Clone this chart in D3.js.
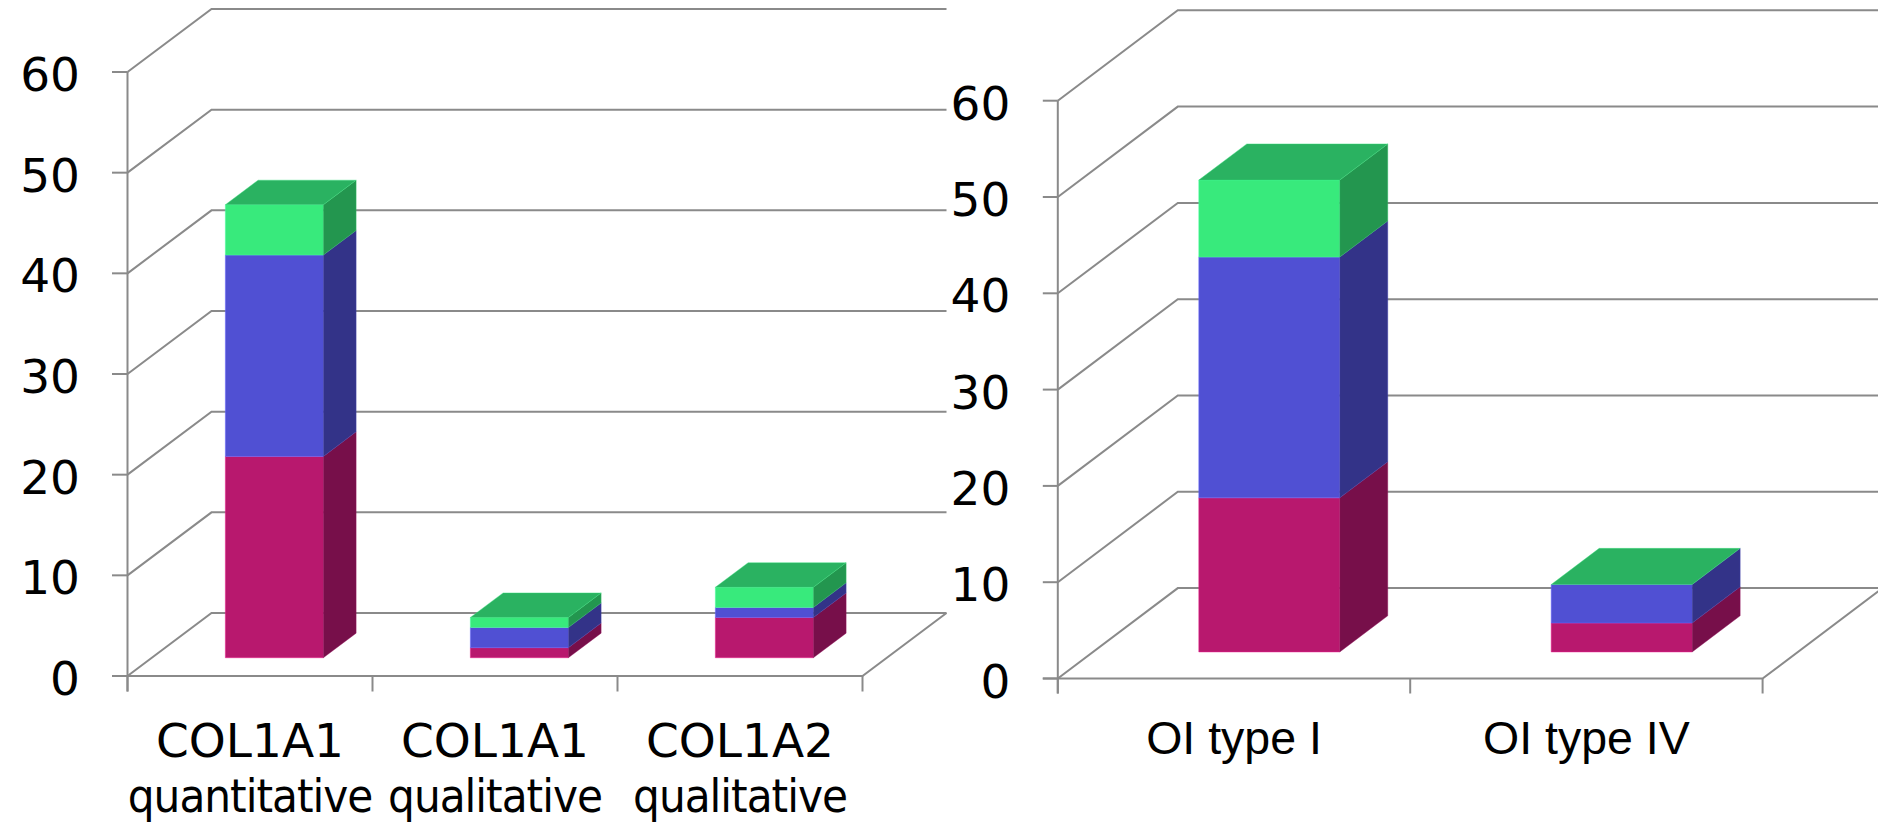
<!DOCTYPE html>
<html>
<head>
<meta charset="utf-8">
<script src="https://cdn.jsdelivr.net/npm/d3@7"></script>
<style>
  html, body { margin: 0; padding: 0; background: #ffffff; }
  svg { display: block; }
  .tick-label { font-family: "DejaVu Sans", Verdana, sans-serif; font-size: 47px; fill: #000; }
  .cat-gene { font-family: "DejaVu Sans", Verdana, sans-serif; font-size: 47px; fill: #000; }
  .cat-method { font-family: "DejaVu Sans Condensed", "DejaVu Sans", sans-serif; font-stretch: condensed; font-size: 47px; letter-spacing: -1px; fill: #000; }
  .cat-type { font-family: "Liberation Sans", Arial, sans-serif; font-size: 46.5px; fill: #000; }
</style>
</head>
<body>
<svg id="chart" width="1878" height="824"></svg>
<script>
// Mutation-class categories (left panel) and phenotype categories (right panel)
const geneCategories = ["COL1A1", "COL1A1", "COL1A2"];
const methodCategories = ["quantitative", "qualitative", "qualitative"];
const typeCategories = ["OI type I", "OI type IV"];

// Stacked values, bottom (magenta) to top (green)
const geneMagenta = [20, 1, 4];
const geneBlue = [20, 2, 1];
const geneGreen = [5, 1, 2];

const typeMagenta = [16, 3];
const typeBlue = [25, 4];
const typeGreen = [8, 0];

const yTicks = [0, 10, 20, 30, 40, 50, 60];
const yMax = 60;

const seriesKeys = ["magenta", "blue", "green"];
const faceColors = {
  magenta: { front: "#b8186e", side: "#770f4a", top: "#9c1460" },
  blue:    { front: "#5050d3", side: "#333388", top: "#3f3fae" },
  green:   { front: "#38ea7c", side: "#23964f", top: "#2ab261" }
};

const svg = d3.select("#chart");
svg.append("rect").attr("width", 1878).attr("height", 824).attr("fill", "#ffffff");

function buildRows(n, magenta, blue, green) {
  return d3.range(n).map(i => ({ idx: i, magenta: magenta[i], blue: blue[i], green: green[i] }));
}

function drawPanel(cfg) {
  const g = svg.append("g");
  const n = cfg.rows.length;

  // front-plane scales
  const x = d3.scaleBand().domain(d3.range(n)).range([cfg.left, cfg.right]).paddingInner(0).paddingOuter(0);
  const y = d3.scaleLinear().domain([0, yMax]).range([cfg.bottom, cfg.top]);
  // depth (0 = front edge of floor, 1 = back wall)
  const zx = d3.scaleLinear().domain([0, 1]).range([0, cfg.depthX]);
  const zy = d3.scaleLinear().domain([0, 1]).range([0, cfg.depthY]);

  const gridColor = "#8a8a8a";
  const gridWidth = 2;
  const wallRight = cfg.right + zx(1);

  // back wall gridlines with the side-wall diagonals
  const gridLine = d3.line();
  g.selectAll("path.grid").data(yTicks).join("path")
    .attr("class", "grid")
    .attr("fill", "none")
    .attr("stroke", gridColor)
    .attr("stroke-width", gridWidth)
    .attr("d", t => gridLine([
      [cfg.left, y(t)],
      [cfg.left + zx(1), y(t) - zy(1)],
      [wallRight, y(t) - zy(1)]
    ]));

  // floor: front edge and right diagonal
  g.append("path")
    .attr("fill", "none")
    .attr("stroke", gridColor)
    .attr("stroke-width", gridWidth)
    .attr("d", gridLine([
      [cfg.left - cfg.tickLen, y(0)],
      [cfg.right, y(0)],
      [cfg.right + zx(1), y(0) - zy(1)]
    ]));

  // vertical value axis
  g.append("line")
    .attr("x1", cfg.left).attr("x2", cfg.left)
    .attr("y1", y(yMax)).attr("y2", y(0) + cfg.tickLen)
    .attr("stroke", gridColor).attr("stroke-width", gridWidth);

  // value-axis tick marks
  g.selectAll("line.ytick").data(yTicks).join("line")
    .attr("class", "ytick")
    .attr("x1", cfg.left - cfg.tickLen).attr("x2", cfg.left)
    .attr("y1", t => y(t)).attr("y2", t => y(t))
    .attr("stroke", gridColor).attr("stroke-width", gridWidth);

  // category boundary tick marks
  const boundaries = d3.range(n + 1).map(i => i < n ? x(i) : cfg.right);
  g.selectAll("line.xtick").data(boundaries).join("line")
    .attr("class", "xtick")
    .attr("x1", d => d).attr("x2", d => d)
    .attr("y1", y(0)).attr("y2", y(0) + cfg.tickLen)
    .attr("stroke", gridColor).attr("stroke-width", gridWidth);

  // value labels
  g.selectAll("text.tick-label").data(yTicks).join("text")
    .attr("class", "tick-label")
    .attr("text-anchor", "end")
    .attr("x", cfg.left - cfg.labelGap)
    .attr("y", t => y(t) + 19)
    .text(t => t);

  // stacked 3D bars
  const stacked = d3.stack().keys(seriesKeys)(cfg.rows);
  const bw = x.bandwidth() * cfg.barFrac;
  const z0 = cfg.barFront, z1 = cfg.barFront + cfg.barDepth;
  const dX = zx(z1) - zx(z0), dY = zy(z1) - zy(z0);
  const barX = i => x(i) + (x.bandwidth() - bw) / 2 + zx(z0);
  const Y = v => y(v) - zy(z0);
  const poly = pts => "M" + pts.map(p => p.join(",")).join("L") + "Z";
  const edge = c => d3.color(c).brighter(0.7).formatHex();

  cfg.rows.forEach((row, i) => {
    const bar = g.append("g");
    stacked.forEach((layer, li) => {
      const [v0, v1] = layer[i];
      const col = faceColors[layer.key];
      const xl = barX(i), xr = barX(i) + bw;
      if (v1 > v0) {
        bar.append("path")
          .attr("d", poly([[xl, Y(v1)], [xr, Y(v1)], [xr, Y(v0)], [xl, Y(v0)]]))
          .attr("fill", col.front)
          .attr("stroke", edge(col.front)).attr("stroke-width", 1).attr("stroke-opacity", 0.5);
        bar.append("path")
          .attr("d", poly([[xr, Y(v0)], [xr, Y(v1)], [xr + dX, Y(v1) - dY], [xr + dX, Y(v0) - dY]]))
          .attr("fill", col.side)
          .attr("stroke", edge(col.side)).attr("stroke-width", 1).attr("stroke-opacity", 0.4);
      }
      if (li === stacked.length - 1) {
        bar.append("path")
          .attr("d", poly([[xl, Y(v1)], [xr, Y(v1)], [xr + dX, Y(v1) - dY], [xl + dX, Y(v1) - dY]]))
          .attr("fill", col.top)
          .attr("stroke", edge(col.top)).attr("stroke-width", 1).attr("stroke-opacity", 0.4);
      }
    });
  });

  // category labels
  const labels = g.selectAll("g.cat").data(cfg.labels).join("g").attr("class", "cat");
  labels.each(function (lines, i) {
    const cx = x(i) + x.bandwidth() / 2;
    lines.forEach((line, k) => {
      d3.select(this).append("text")
        .attr("class", cfg.labelClasses[k])
        .attr("text-anchor", "middle")
        .attr("x", cx)
        .attr("y", y(0) + cfg.labelOffset + k * cfg.lineHeight)
        .text(line);
    });
  });
}

drawPanel({
  rows: buildRows(geneCategories.length, geneMagenta, geneBlue, geneGreen),
  labels: geneCategories.map((g, i) => [g, methodCategories[i]]),
  labelClasses: ["cat-gene", "cat-method"],
  left: 127.5, right: 862.5, top: 72, bottom: 676,
  depthX: 84, depthY: 63,
  barFront: 0.29, barDepth: 0.39, barFrac: 0.4,
  tickLen: 15.5, labelGap: 47.5,
  labelOffset: 80.7, lineHeight: 55
});

drawPanel({
  rows: buildRows(typeCategories.length, typeMagenta, typeBlue, typeGreen),
  labels: typeCategories.map(t => [t]),
  labelClasses: ["cat-type"],
  left: 1057.8, right: 1762.6, top: 100.7, bottom: 678.5,
  depthX: 120, depthY: 90.4,
  barFront: 0.294, barDepth: 0.4, barFrac: 0.4,
  tickLen: 15, labelGap: 47.5,
  labelOffset: 75.5, lineHeight: 55
});
</script>
</body>
</html>
